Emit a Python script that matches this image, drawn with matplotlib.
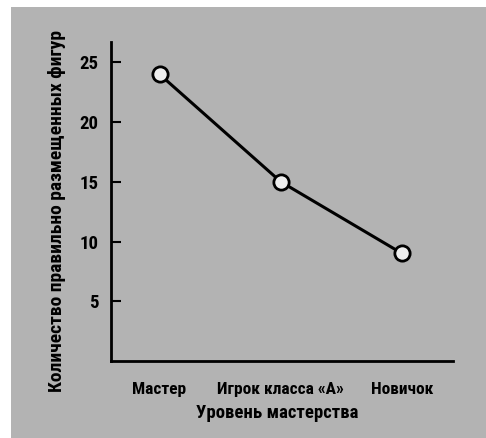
import matplotlib
matplotlib.use("Agg")
import matplotlib.pyplot as plt
from matplotlib.patches import Rectangle
from matplotlib import font_manager as fm

categories = ["Мастер", "Игрок класса «А»", "Новичок"]
values = [24, 15, 9]
yticks = [5, 10, 15, 20, 25]

available = {f.name for f in fm.fontManager.ttflist}
preferred = ['Roboto Condensed', 'PT Sans Narrow', 'Fira Sans Condensed',
             'Archivo Narrow', 'Open Sans Condensed', 'Liberation Sans Narrow',
             'Liberation Sans']
chosen = next((p for p in preferred if p in available), 'DejaVu Sans')
plt.rcParams['font.family'] = [chosen, 'DejaVu Sans']

fig = plt.figure(figsize=(4.86, 4.38), dpi=100)
fig.patch.set_facecolor('white')
bg = Rectangle((11/486, 0), 1 - 11/486, (438-7)/438, transform=fig.transFigure,
               facecolor='#b3b3b3', edgecolor='none', zorder=-10)
fig.patches.append(bg)

ax = fig.add_axes([111/486, (438-361)/438, (453-111)/486, (361-42)/438])
ax.set_facecolor('none')
x = list(range(len(categories)))
ax.plot(x, values, color='black', lw=2.2, marker='o', markersize=11,
        markerfacecolor='#eeeeee', markeredgecolor='black', markeredgewidth=2, zorder=3)
ax.set_xlim(-0.40, 2.42)
ax.set_ylim(0, 26.7)
ax.set_yticks(yticks)
ax.set_yticklabels([str(t) for t in yticks], fontsize=13.5, fontweight='bold')
ax.set_xticks(x)
ax.set_xticklabels(categories, fontsize=12.5, fontweight='bold')
ax.tick_params(axis='y', direction='in', length=7, width=1.5, pad=9)
ax.tick_params(axis='x', length=0, pad=15)
for s in ['top', 'right']:
    ax.spines[s].set_visible(False)
for s in ['left', 'bottom']:
    ax.spines[s].set_linewidth(2)
ax.set_xlabel("Уровень мастерства", fontsize=13.5, fontweight='bold', va='center')
ax.xaxis.set_label_coords((277 - 111) / 342, (361 - 413) / 319)
ax.set_ylabel("Количество правильно размещенных фигур", fontsize=14, fontweight='bold', va='center')
ax.yaxis.set_label_coords((57 - 111) / 342, (361 - 211) / 319)

fig.savefig("out.png", dpi=100)
